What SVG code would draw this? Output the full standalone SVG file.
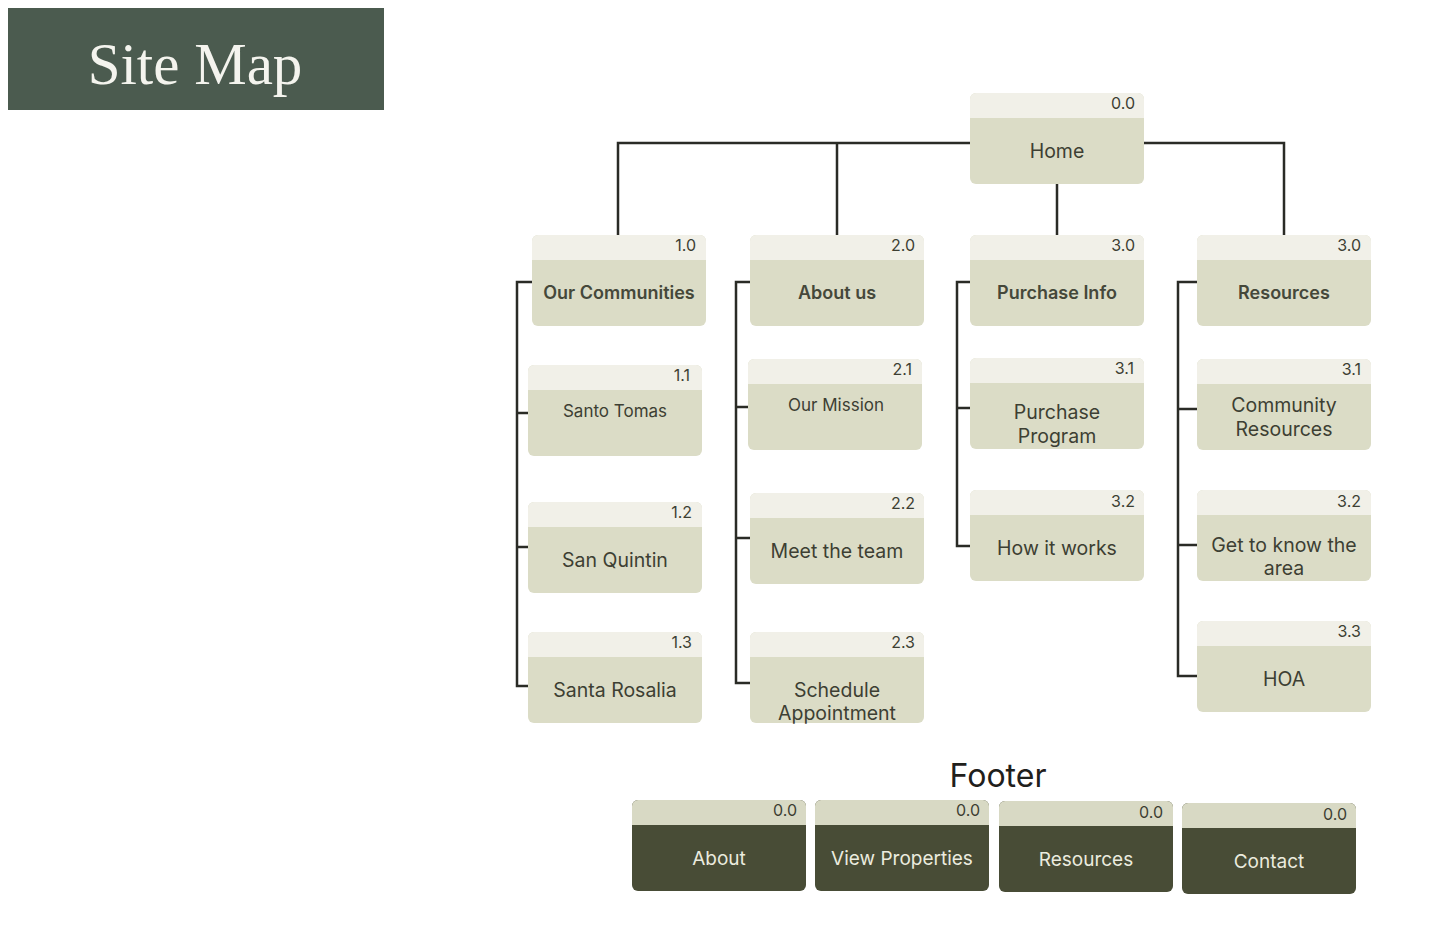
<svg xmlns="http://www.w3.org/2000/svg" width="1446" height="940" viewBox="0 0 1446 940">
<style>
.band{fill:#f1f0e8}
.body{fill:#dbdcc6}
.fband{fill:#d8d9c4}
.fbody{fill:#484c36}
.num{font-family:Inter,"Liberation Sans",sans-serif;font-size:16px;fill:#3d3f33;text-anchor:end}
.lbl{font-family:Inter,"Liberation Sans",sans-serif;font-size:19.5px;fill:#3d3f33;text-anchor:middle}
.sm{font-size:17px}
.bold{font-weight:600;font-size:18px;fill:#45483a}
.flbl{font-family:Inter,"Liberation Sans",sans-serif;font-size:19px;fill:#ebebdf;text-anchor:middle}
.conn{fill:none;stroke:#2a2b26;stroke-width:2.5}
</style>
<defs>
<g id="node"><rect width="174" height="91" rx="6" class="body"/><path d="M0 25V6a6 6 0 0 1 6-6h162a6 6 0 0 1 6 6v19z" class="band"/></g>
<g id="fnode"><rect width="174" height="91" rx="6" class="fbody"/><path d="M0 25V6a6 6 0 0 1 6-6h162a6 6 0 0 1 6 6v19z" class="fband"/></g>
</defs>
<rect width="1446" height="940" fill="#ffffff"/>
<g id="title">
<rect x="8" y="8" width="376" height="102" fill="#4b5b4f"/>
<text x="195" y="84" text-anchor="middle" font-family="'Liberation Serif','DejaVu Serif',serif" font-size="59" fill="#f4f4ee">Site Map</text>
</g>
<g id="connectors">
<path class="conn" d="M970 143H618V235M837 143V235M1144 143H1284V235M1057 184V235"/>
<path class="conn" d="M532 282H517V686H528M517 413H528M517 547H528"/>
<path class="conn" d="M750 282H736V683H750M736 407H748M736 538H750"/>
<path class="conn" d="M970 282H957V546H970M957 408H970"/>
<path class="conn" d="M1197 282H1178V676H1197M1178 409H1197M1178 545H1197"/>
</g>
<g id="home"><use href="#node" x="970" y="93"/><text class="num" x="1135" y="109">0.0</text><text class="lbl" x="1057" y="158">Home</text></g>
<g id="our-communities"><use href="#node" x="532" y="235"/><text class="num" x="696" y="251">1.0</text><text class="lbl bold" x="619" y="299">Our Communities</text></g>
<g id="about-us"><use href="#node" x="750" y="235"/><text class="num" x="915" y="251">2.0</text><text class="lbl bold" x="837" y="299">About us</text></g>
<g id="purchase-info"><use href="#node" x="970" y="235"/><text class="num" x="1135" y="251">3.0</text><text class="lbl bold" x="1057" y="299">Purchase Info</text></g>
<g id="resources"><use href="#node" x="1197" y="235"/><text class="num" x="1361" y="251">3.0</text><text class="lbl bold" x="1284" y="299">Resources</text></g>
<g id="santo-tomas"><use href="#node" x="528" y="365"/><text class="num" x="690" y="381">1.1</text><text class="lbl sm" x="615" y="417">Santo Tomas</text></g>
<g id="san-quintin"><use href="#node" x="528" y="502"/><text class="num" x="692" y="518">1.2</text><text class="lbl" x="615" y="567">San Quintin</text></g>
<g id="santa-rosalia"><use href="#node" x="528" y="632"/><text class="num" x="692" y="648">1.3</text><text class="lbl" x="615" y="697">Santa Rosalia</text></g>
<g id="our-mission"><use href="#node" x="748" y="359"/><text class="num" x="912" y="375">2.1</text><text class="lbl sm" x="836" y="411">Our Mission</text></g>
<g id="meet-the-team"><use href="#node" x="750" y="493"/><text class="num" x="915" y="509">2.2</text><text class="lbl" x="837" y="558">Meet the team</text></g>
<g id="schedule-appointment"><use href="#node" x="750" y="632"/><text class="num" x="915" y="648">2.3</text><text class="lbl" x="837" y="697">Schedule</text><text class="lbl" x="837" y="720">Appointment</text></g>
<g id="purchase-program"><use href="#node" x="970" y="358"/><text class="num" x="1134" y="374">3.1</text><text class="lbl" x="1057" y="419">Purchase</text><text class="lbl" x="1057" y="443">Program</text></g>
<g id="how-it-works"><use href="#node" x="970" y="490"/><text class="num" x="1135" y="507">3.2</text><text class="lbl" x="1057" y="555">How it works</text></g>
<g id="community-resources"><use href="#node" x="1197" y="359"/><text class="num" x="1361" y="375">3.1</text><text class="lbl" x="1284" y="412">Community</text><text class="lbl" x="1284" y="436">Resources</text></g>
<g id="get-to-know"><use href="#node" x="1197" y="490"/><text class="num" x="1361" y="507">3.2</text><text class="lbl" x="1284" y="552">Get to know the</text><text class="lbl" x="1284" y="575">area</text></g>
<g id="hoa"><use href="#node" x="1197" y="621"/><text class="num" x="1361" y="637">3.3</text><text class="lbl" x="1284" y="686">HOA</text></g>
<text x="998" y="787" text-anchor="middle" font-family="Inter,'Liberation Sans',sans-serif" font-size="32" fill="#1f201c">Footer</text>
<g id="footer-about"><use href="#fnode" x="632" y="800"/><text class="num" x="797" y="816">0.0</text><text class="flbl" x="719" y="865">About</text></g>
<g id="footer-view-properties"><use href="#fnode" x="815" y="800"/><text class="num" x="980" y="816">0.0</text><text class="flbl" x="902" y="865">View Properties</text></g>
<g id="footer-resources"><use href="#fnode" x="999" y="801"/><text class="num" x="1163" y="818">0.0</text><text class="flbl" x="1086" y="866">Resources</text></g>
<g id="footer-contact"><use href="#fnode" x="1182" y="803"/><text class="num" x="1347" y="820">0.0</text><text class="flbl" x="1269" y="868">Contact</text></g>
</svg>
